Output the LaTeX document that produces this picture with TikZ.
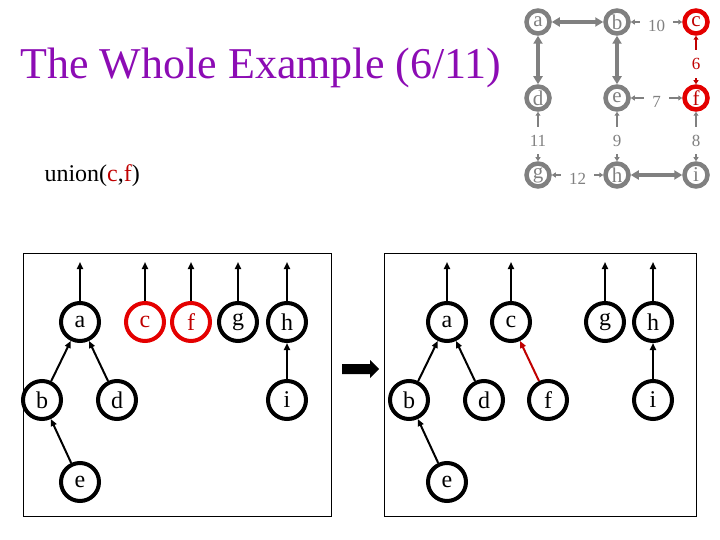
\documentclass[tikz,border=0pt]{standalone}
\usepackage{fontspec}
\setmainfont{Liberation Serif}
\usetikzlibrary{arrows.meta}
\definecolor{titlepurple}{RGB}{140,12,180}
\definecolor{nodered}{RGB}{228,0,0}
\definecolor{textred}{RGB}{192,0,0}
\definecolor{edgegray}{RGB}{128,128,128}

\tikzset{
  gnode/.style={circle, draw=edgegray, line width=4.5pt, minimum size=23pt, inner sep=0pt, text=edgegray, font=\fontsize{21}{21}\selectfont},
  gred/.style={gnode, draw=nodered, text=textred},
  tedge/.style={edgegray, line width=3.5pt, {Triangle[length=8pt,width=9pt]}-{Triangle[length=8pt,width=9pt]}},
  wedge/.style={edgegray, line width=1.5pt, {Triangle[length=4pt,width=5pt]}-{Triangle[length=4pt,width=5pt]}},
  wlabel/.style={fill=white, inner sep=8pt, yshift=-4pt, text=edgegray, font=\fontsize{17}{17}\selectfont},
  bnode/.style={circle, draw, line width=4pt, minimum size=38pt, inner sep=0pt, font=\fontsize{24}{24}\selectfont},
  bred/.style={bnode, draw=nodered, text=textred},
  parent/.style={line width=2pt, -{Triangle[length=7pt,width=6pt]}},
}

\begin{document}
\begin{tikzpicture}[x=1pt, y=-1pt]
            \useasboundingbox (0,0) rectangle (720,540);

            % Title and operation
            \node[anchor=base west, text=titlepurple, font=\fontsize{44}{50}\selectfont] (title) at (17,79) {The Whole Example (6/11)};
            \node[anchor=base west, font=\fontsize{24}{28}\selectfont] (op) at (41,182) {union(\textcolor{textred}{c},\textcolor{textred}{f})};

            % Graph (top right)
            \node[gnode] (ga) at (538,22) {a};
            \node[gnode] (gb) at (617,22) {b};
            \node[gred]  (gc) at (696,22) {c};
            \node[gnode] (gd) at (538,98) {d};
            \node[gnode] (ge) at (617,98) {e};
            \node[gred]  (gf) at (696,98) {f};
            \node[gnode] (gg) at (538,175) {g};
            \node[gnode] (gh) at (617,175) {h};
            \node[gnode] (gi) at (696,175) {i};

            % Edges already taken
            \draw[tedge] (ga) -- (gb);
            \draw[tedge] (ga) -- (gd);
            \draw[tedge] (gb) -- (ge);
            \draw[tedge] (gh) -- (gi);

            % Weighted edges
            \draw[wedge] (gb) -- node[wlabel] {10} (gc);
            \draw[wedge, textred] (gc) -- node[wlabel, text=textred] {6} (gf);
            \draw[wedge] (ge) -- node[wlabel] {7} (gf);
            \draw[wedge] (gd) -- node[wlabel] {11} (gg);
            \draw[wedge] (ge) -- node[wlabel] {9} (gh);
            \draw[wedge] (gf) -- node[wlabel] {8} (gi);
            \draw[wedge] (gg) -- node[wlabel] {12} (gh);

            % Forest before union
            \draw[line width=1pt] (23,253) rectangle (331,516);
            \coordinate (ltop) at (23,262);
            \node[bnode] (la) at (80,322) {a};
            \node[bred]  (lc) at (145,322) {c};
            \node[bred]  (lf) at (191,322) {f};
            \node[bnode] (lg) at (238,322) {g};
            \node[bnode] (lh) at (287,322) {h};
            \node[bnode] (lb) at (42,400) {b};
            \node[bnode] (ld) at (117,400) {d};
            \node[bnode] (li) at (287,400) {i};
            \node[bnode] (le) at (80,482) {e};
            \draw[parent] (la) -- (la |- ltop);
            \draw[parent] (lc) -- (lc |- ltop);
            \draw[parent] (lf) -- (lf |- ltop);
            \draw[parent] (lg) -- (lg |- ltop);
            \draw[parent] (lh) -- (lh |- ltop);
            \draw[parent] (lb) -- (la);
            \draw[parent] (ld) -- (la);
            \draw[parent] (le) -- (lb);
            \draw[parent] (li) -- (lh);

            % Block arrow
            \fill (342,364) -- (370,364) -- (370,360) -- (379,369) -- (370,378) -- (370,374) -- (342,374) -- cycle;

            % Forest after union
            \draw[line width=1pt] (384,253) rectangle (696,516);
            \coordinate (rtop) at (384,262);
            \node[bnode] (ra) at (447,322) {a};
            \node[bnode] (rc) at (511,322) {c};
            \node[bnode] (rg) at (605,322) {g};
            \node[bnode] (rh) at (653,322) {h};
            \node[bnode] (rb) at (409,400) {b};
            \node[bnode] (rd) at (484,400) {d};
            \node[bnode] (rf) at (548,400) {f};
            \node[bnode] (ri) at (653,400) {i};
            \node[bnode] (re) at (447,482) {e};
            \draw[parent] (ra) -- (ra |- rtop);
            \draw[parent] (rc) -- (rc |- rtop);
            \draw[parent] (rg) -- (rg |- rtop);
            \draw[parent] (rh) -- (rh |- rtop);
            \draw[parent] (rb) -- (ra);
            \draw[parent] (rd) -- (ra);
            \draw[parent] (re) -- (rb);
            \draw[parent, textred] (rf) -- (rc);
            \draw[parent] (ri) -- (rh);

        \end{tikzpicture}
\end{document}
